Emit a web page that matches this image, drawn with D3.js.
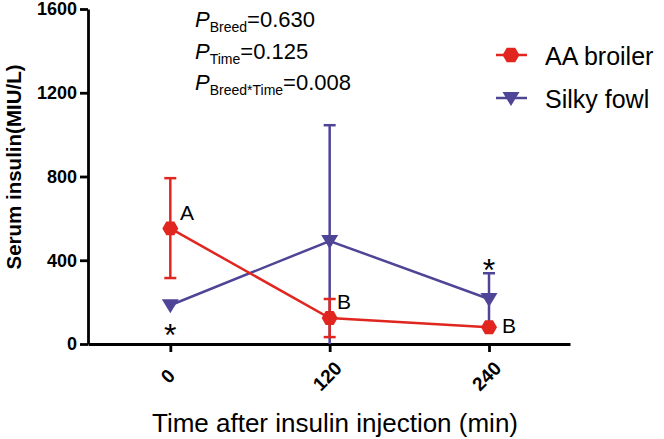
<!DOCTYPE html>
<html>
<head>
<meta charset="utf-8">
<script src="https://cdn.jsdelivr.net/npm/d3@7"></script>
<style>
  body { margin: 0; background: #fff; }
  text { font-family: Arial, "Liberation Sans", sans-serif; }
</style>
</head>
<body>
<div id="chart"></div>
<script>
var svgWidth = 664;
var svgHeight = 439;

// data
var times = [0, 120, 240];
var timeLabels = ["0", "120", "240"];
var yTicks = [0, 400, 800, 1200, 1600];

var broilerMean = [552, 124, 80];
var broilerLow = [315, 33, 80];
var broilerHigh = [792, 215, 80];

var silkyMean = [185, 492, 215];
var silkyLow = [185, 0, 88];
var silkyHigh = [185, 1045, 338];

var broilerLetters = ["A", "B", "B"];
var silkyStars = ["*", "", "*"];

var red = "#e0261f";
var purple = "#4f4597";

var svg = d3.select("#chart").append("svg")
  .attr("width", svgWidth)
  .attr("height", svgHeight);

var x = d3.scaleLinear().domain([-62, 301]).range([88, 570]);
var y = d3.scaleLinear().domain([0, 1600]).range([344, 9]);

// y axis
var yAxis = svg.append("g")
  .attr("transform", "translate(88,0)")
  .call(d3.axisLeft(y).tickValues(yTicks).tickFormat(d3.format("d")).tickSize(8).tickSizeOuter(0).tickPadding(3));
yAxis.select(".domain").attr("stroke-width", 2.8);
yAxis.selectAll(".tick line").attr("stroke-width", 2.8);
yAxis.selectAll(".tick text")
  .attr("font-size", 18).attr("font-weight", "bold").attr("fill", "#000");

// x axis
var xAxis = svg.append("g")
  .attr("transform", "translate(0,344)")
  .call(d3.axisBottom(x).tickValues(times).tickFormat((d, i) => timeLabels[i]).tickSize(8).tickSizeOuter(0));
xAxis.select(".domain").attr("stroke-width", 2.8);
xAxis.selectAll(".tick line").attr("stroke-width", 2.8);
xAxis.selectAll(".tick text")
  .attr("font-size", 19).attr("font-weight", "bold").attr("fill", "#000")
  .attr("text-anchor", "middle")
  .attr("y", 0).attr("dy", "0.35em")
  .attr("transform", "translate(-3,32) rotate(-45)");

// axis titles
svg.append("text")
  .attr("transform", "translate(21,167) rotate(-90)")
  .attr("text-anchor", "middle")
  .attr("font-size", 20.5).attr("font-weight", "bold")
  .text("Serum insulin(MIU/L)");

svg.append("text")
  .attr("x", 335).attr("y", 432)
  .attr("text-anchor", "middle")
  .attr("font-size", 26)
  .text("Time after insulin injection (min)");

// hexagon and triangle paths
function hexPath(r) {
  var pts = d3.range(6).map(function(i) {
    var a = Math.PI / 3 * i;
    return [r * Math.cos(a), r * Math.sin(a)];
  });
  return "M" + pts.join("L") + "Z";
}
function triPath(r) {
  return "M" + (-r) + "," + (-r * 0.7) + "L" + r + "," + (-r * 0.7) + "L0," + (r * 0.95) + "Z";
}

function drawSeries(mean, low, high, color, shape, capW) {
  var g = svg.append("g");
  // error bars
  times.forEach(function(t, i) {
    if (high[i] === low[i]) return;
    g.append("line")
      .attr("x1", x(t)).attr("x2", x(t))
      .attr("y1", y(low[i])).attr("y2", y(high[i]))
      .attr("stroke", color).attr("stroke-width", 2.5);
    [low[i], high[i]].forEach(function(v) {
      if (v === 0) return;
      g.append("line")
        .attr("x1", x(t) - capW).attr("x2", x(t) + capW)
        .attr("y1", y(v)).attr("y2", y(v))
        .attr("stroke", color).attr("stroke-width", 2.5);
    });
  });
  // connecting line
  var line = d3.line().x((d, i) => x(times[i])).y(d => y(d));
  g.append("path")
    .attr("d", line(mean))
    .attr("fill", "none")
    .attr("stroke", color).attr("stroke-width", 2.5);
  // markers
  g.selectAll(".pt")
    .data(mean)
    .enter()
    .append("path")
    .attr("transform", (d, i) => `translate(${x(times[i])},${y(d)})`)
    .attr("d", shape)
    .attr("fill", color);
}

drawSeries(silkyMean, silkyLow, silkyHigh, purple, triPath(8.5), 6);
drawSeries(broilerMean, broilerLow, broilerHigh, red, hexPath(8), 6);

// letters next to broiler points
var letterPos = [[180, 220], [337, 309], [502, 333]];
broilerLetters.forEach(function(l, i) {
  svg.append("text")
    .attr("x", letterPos[i][0]).attr("y", letterPos[i][1])
    .attr("font-size", 21)
    .text(l);
});

// asterisks for silky fowl
var starY = [346, null, 281];
silkyStars.forEach(function(s, i) {
  if (!s) return;
  svg.append("text")
    .attr("x", x(times[i])).attr("y", starY[i])
    .attr("text-anchor", "middle")
    .attr("font-size", 32)
    .text(s);
});

// P values
var pLabels = ["Breed", "Time", "Breed*Time"];
var pValues = ["0.630", "0.125", "0.008"];
pLabels.forEach(function(lab, i) {
  var t = svg.append("text")
    .attr("x", 195).attr("y", 27 + i * 31.5)
    .attr("font-size", 22);
  t.append("tspan").attr("font-style", "italic").attr("font-size", 22).text("P");
  t.append("tspan").attr("font-size", 14).attr("dy", 5).text(lab);
  t.append("tspan").attr("dy", -5).text("=" + pValues[i]);
});

// legend
var legendItems = [
  { name: "AA broiler", color: red, shape: hexPath(8.5) },
  { name: "Silky fowl", color: purple, shape: triPath(8.5) }
];
legendItems.forEach(function(d, i) {
  var ly = 55 + i * 43;
  svg.append("line")
    .attr("x1", 496).attr("x2", 527)
    .attr("y1", ly).attr("y2", ly)
    .attr("stroke", d.color).attr("stroke-width", 2.5);
  svg.append("path")
    .attr("transform", `translate(511,${ly})`)
    .attr("d", d.shape)
    .attr("fill", d.color);
  svg.append("text")
    .attr("x", 545).attr("y", ly + 9.5)
    .attr("font-size", 25)
    .text(d.name);
});
</script>
</body>
</html>
